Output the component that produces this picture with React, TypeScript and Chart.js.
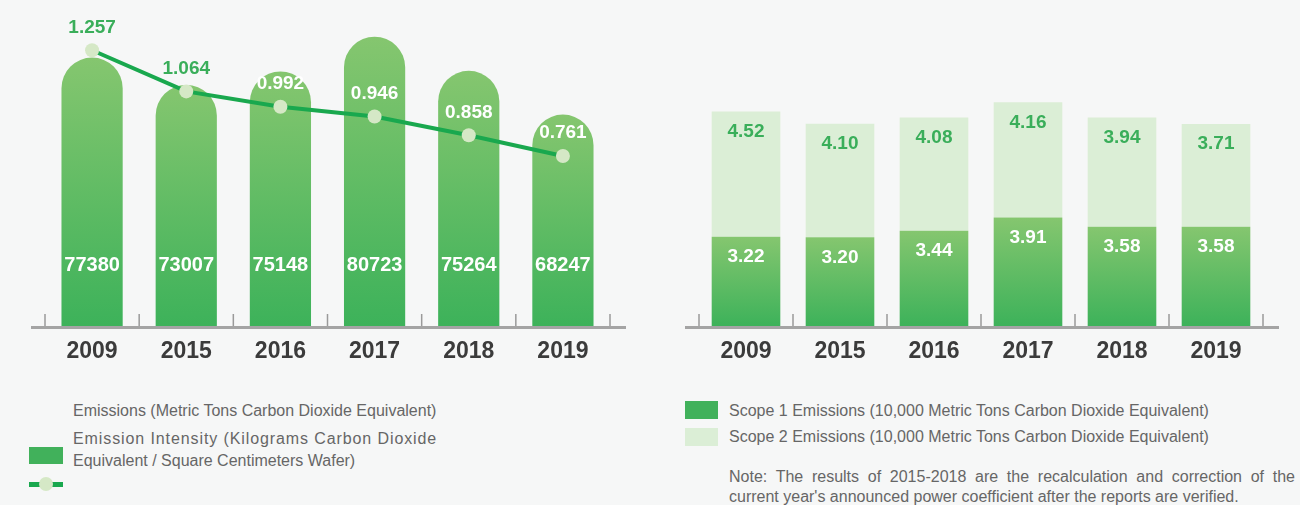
import React, { useEffect, useRef } from 'react';
import { Chart, registerables } from 'chart.js';

Chart.register(...registerables);

// ---------- data ----------
const years = ['2009', '2015', '2016', '2017', '2018', '2019'];
const emissions = [77380, 73007, 75148, 80723, 75264, 68247];
const intensity = [1.257, 1.064, 0.992, 0.946, 0.858, 0.761];
const intensityLabelColors = ['#3aae5a', '#3aae5a', '#ffffff', '#ffffff', '#ffffff', '#ffffff'];
const scope1 = [3.22, 3.2, 3.44, 3.91, 3.58, 3.58];
const scope2 = [4.52, 4.1, 4.08, 4.16, 3.94, 3.71];

// ---------- styles ----------
const FONT = '"Liberation Sans", Arial, Helvetica, sans-serif';
const GREEN_TOP = '#85c66f';
const GREEN_BOTTOM = '#3db25a';
const GREEN_MID = '#5fbb63';
const LINE_GREEN = '#19a84e';
const POINT_FILL = '#d5e8c6';
const LABEL_GREEN = '#3aae5a';
const SCOPE2_FILL = '#dbeed6';
const BG = '#f6f7f7';

function gradientFor(chart: any, topValue: number, bottomValue: number) {
  const ys = chart.scales && chart.scales.y;
  if (!ys) return GREEN_MID;
  const top = ys.getPixelForValue(topValue);
  const bottom = ys.getPixelForValue(bottomValue);
  if (!isFinite(top) || !isFinite(bottom) || top === bottom) return GREEN_MID;
  const g = chart.ctx.createLinearGradient(0, top, 0, bottom);
  g.addColorStop(0, GREEN_TOP);
  g.addColorStop(1, GREEN_BOTTOM);
  return g;
}

function drawAxisAndCategories(chart: any) {
  const { ctx, chartArea, scales } = chart;
  const xs = scales.x;
  const c0 = xs.getPixelForValue(0);
  const c1 = xs.getPixelForValue(1);
  const step = c1 - c0;
  const n = years.length;
  ctx.save();
  ctx.fillStyle = '#a4a4a4';
  ctx.fillRect(chartArea.left - 14, chartArea.bottom, chartArea.right - chartArea.left + 30, 3);
  ctx.fillStyle = '#9a9a9a';
  for (let i = 0; i <= n; i++) {
    const px = c0 - step / 2 + i * step;
    ctx.fillRect(px - 0.75, chartArea.bottom - 12, 1.5, 12);
  }
  ctx.fillStyle = '#3b3b3b';
  ctx.font = `bold 23px ${FONT}`;
  ctx.textAlign = 'center';
  ctx.textBaseline = 'middle';
  for (let i = 0; i < n; i++) {
    ctx.fillText(years[i], xs.getPixelForValue(i), chartArea.bottom + 26);
  }
  ctx.restore();
}

const leftDeco = {
  id: 'leftDeco',
  afterDatasetsDraw(chart: any) {
    drawAxisAndCategories(chart);
    const { ctx, chartArea } = chart;
    const barMeta = chart.getDatasetMeta(1);
    const lineMeta = chart.getDatasetMeta(0);
    ctx.save();
    ctx.textAlign = 'center';
    ctx.textBaseline = 'middle';
    ctx.font = `bold 20px ${FONT}`;
    ctx.fillStyle = '#ffffff';
    barMeta.data.forEach((el: any, i: number) => {
      ctx.fillText(String(emissions[i]), el.x, chartArea.bottom - 61);
    });
    ctx.font = `bold 19px ${FONT}`;
    lineMeta.data.forEach((el: any, i: number) => {
      ctx.fillStyle = intensityLabelColors[i];
      ctx.fillText(intensity[i].toFixed(3), el.x, el.y - 23);
    });
    ctx.restore();
  },
};

const rightDeco = {
  id: 'rightDeco',
  afterDatasetsDraw(chart: any) {
    drawAxisAndCategories(chart);
    const { ctx } = chart;
    ctx.save();
    ctx.textAlign = 'center';
    ctx.textBaseline = 'middle';
    ctx.font = `bold 19px ${FONT}`;
    const m1 = chart.getDatasetMeta(0);
    const m2 = chart.getDatasetMeta(1);
    ctx.fillStyle = '#ffffff';
    m1.data.forEach((el: any, i: number) => {
      ctx.fillText(scope1[i].toFixed(2), el.x, el.y + 20);
    });
    ctx.fillStyle = LABEL_GREEN;
    m2.data.forEach((el: any, i: number) => {
      ctx.fillText(scope2[i].toFixed(2), el.x, el.y + 20);
    });
    ctx.restore();
  },
};

function LeftChart() {
  const ref = useRef<HTMLCanvasElement | null>(null);
  useEffect(() => {
    if (!ref.current) return;
    const chart = new Chart(ref.current, {
      type: 'bar',
      data: {
        labels: years,
        datasets: [
          {
            type: 'line',
            label: 'Emission Intensity',
            data: intensity,
            yAxisID: 'y1',
            borderColor: LINE_GREEN,
            borderWidth: 4,
            pointRadius: 7,
            pointBackgroundColor: POINT_FILL,
            pointBorderWidth: 0,
            tension: 0,
            order: 0,
          } as any,
          {
            type: 'bar',
            label: 'Emissions',
            data: emissions,
            yAxisID: 'y',
            backgroundColor: (c: any) => {
              if (c.dataIndex == null) return GREEN_MID;
              const ys = c.chart.scales.y;
              return gradientFor(c.chart, emissions[c.dataIndex], ys ? ys.min : 0);
            },
            borderWidth: 0,
            borderRadius: { topLeft: 40, topRight: 40, bottomLeft: 0, bottomRight: 0 },
            borderSkipped: 'bottom',
            barPercentage: 0.65,
            categoryPercentage: 1,
            order: 1,
          } as any,
        ],
      },
      options: {
        responsive: false,
        animation: false,
        layout: { padding: { left: 45, right: 40, top: 10, bottom: 74 } },
        plugins: { legend: { display: false }, tooltip: { enabled: false } },
        scales: {
          x: { type: 'category', display: false, offset: true },
          y: { display: false, min: 34400, max: 85000 },
          y1: { display: false, min: -0.037, max: 1.446 },
        },
      },
      plugins: [leftDeco],
    });
    return () => chart.destroy();
  }, []);
  return (
    <canvas
      ref={ref}
      width={650}
      height={400}
      style={{ position: 'absolute', left: 0, top: 0, width: 650, height: 400 }}
    />
  );
}

function RightChart() {
  const ref = useRef<HTMLCanvasElement | null>(null);
  useEffect(() => {
    if (!ref.current) return;
    const chart = new Chart(ref.current, {
      type: 'bar',
      data: {
        labels: years,
        datasets: [
          {
            label: 'Scope 1 Emissions',
            data: scope1,
            stack: 's',
            backgroundColor: (c: any) => {
              if (c.dataIndex == null) return GREEN_MID;
              return gradientFor(c.chart, scope1[c.dataIndex], 0);
            },
            borderWidth: 0,
            barPercentage: 0.73,
            categoryPercentage: 1,
          },
          {
            label: 'Scope 2 Emissions',
            data: scope2,
            stack: 's',
            backgroundColor: SCOPE2_FILL,
            borderWidth: 0,
            barPercentage: 0.73,
            categoryPercentage: 1,
          },
        ],
      },
      options: {
        responsive: false,
        animation: false,
        layout: { padding: { left: 49, right: 37, top: 10, bottom: 74 } },
        plugins: { legend: { display: false }, tooltip: { enabled: false } },
        scales: {
          x: { type: 'category', display: false, offset: true, stacked: true },
          y: { display: false, stacked: true, min: 0, max: 11.4 },
        },
      },
      plugins: [rightDeco],
    });
    return () => chart.destroy();
  }, []);
  return (
    <canvas
      ref={ref}
      width={650}
      height={400}
      style={{ position: 'absolute', left: 650, top: 0, width: 650, height: 400 }}
    />
  );
}

const textStyle: React.CSSProperties = {
  position: 'absolute',
  fontFamily: FONT,
  fontSize: 16,
  color: '#666666',
  whiteSpace: 'nowrap',
  lineHeight: '22px',
};

export default function App() {
  return (
    <div
      style={{
        position: 'fixed',
        left: 0,
        top: 0,
        width: 1300,
        height: 505,
        background: BG,
        overflow: 'hidden',
      }}
    >
      <LeftChart />
      <RightChart />

      {/* left legend */}
      <div style={{ ...textStyle, left: 73, top: 400 }}>Emissions (Metric Tons Carbon Dioxide Equivalent)</div>
      <div style={{ ...textStyle, left: 73, top: 428, letterSpacing: '0.9px' }}>
        Emission Intensity (Kilograms Carbon Dioxide
      </div>
      <div style={{ ...textStyle, left: 73, top: 450 }}>Equivalent / Square Centimeters Wafer)</div>
      <div style={{ position: 'absolute', left: 29, top: 447, width: 34, height: 17, background: '#41b15b' }} />
      <div style={{ position: 'absolute', left: 29, top: 482, width: 34, height: 5, background: LINE_GREEN }} />
      <div
        style={{
          position: 'absolute',
          left: 39,
          top: 477,
          width: 14,
          height: 14,
          borderRadius: 7,
          background: POINT_FILL,
        }}
      />

      {/* right legend */}
      <div style={{ position: 'absolute', left: 685, top: 401, width: 33, height: 18, background: '#41b15b' }} />
      <div style={{ ...textStyle, left: 729, top: 400 }}>
        Scope 1 Emissions (10,000 Metric Tons Carbon Dioxide Equivalent)
      </div>
      <div style={{ position: 'absolute', left: 685, top: 428, width: 33, height: 18, background: SCOPE2_FILL }} />
      <div style={{ ...textStyle, left: 729, top: 426 }}>
        Scope 2 Emissions (10,000 Metric Tons Carbon Dioxide Equivalent)
      </div>
      <div
        style={{
          ...textStyle,
          left: 729,
          top: 467,
          width: 566,
          lineHeight: '20px',
          textAlign: 'justify',
          whiteSpace: 'normal',
        }}
      >
        Note: The results of 2015-2018 are the recalculation and correction of the current year's announced power
        coefficient after the reports are verified.
      </div>
    </div>
  );
}
